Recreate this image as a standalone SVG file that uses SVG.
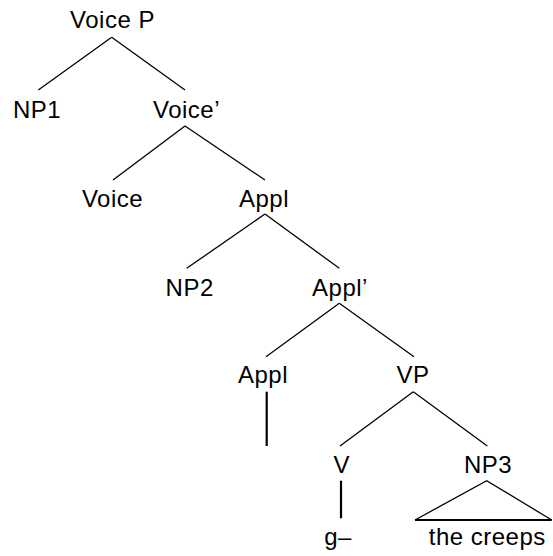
<svg xmlns="http://www.w3.org/2000/svg" width="553" height="556" viewBox="0 0 553 556">
<style>
text{font-family:"Liberation Sans",Arial,sans-serif;font-size:24px;letter-spacing:0.5px;fill:#000;text-anchor:middle}
.e{stroke:#000;stroke-width:1.3;fill:none}
.v{stroke:#000;stroke-width:2.2;fill:none}
</style>
<rect width="553" height="556" fill="#fff"/>
<g id="connectors">
<line class="e" x1="111.7" y1="37.3" x2="38.3" y2="90"/>
<line class="e" x1="111.7" y1="37.3" x2="185" y2="90"/>
<line class="e" x1="185" y1="126" x2="113" y2="180"/>
<line class="e" x1="185" y1="126" x2="265" y2="180"/>
<line class="e" x1="265" y1="214" x2="186.7" y2="268.3"/>
<line class="e" x1="265" y1="214" x2="339.3" y2="268.3"/>
<line class="e" x1="339.3" y1="303.3" x2="266" y2="356.7"/>
<line class="e" x1="339.3" y1="303.3" x2="414" y2="356.7"/>
<line class="v" x1="266.7" y1="391.7" x2="266.7" y2="446"/>
<line class="e" x1="413.3" y1="391.7" x2="340" y2="446"/>
<line class="e" x1="413.3" y1="391.7" x2="487.3" y2="446"/>
<line class="v" x1="341" y1="480.7" x2="341" y2="518.3"/>
<polyline class="e" points="415,520 486.7,480.7 551.7,520"/>
<line class="v" x1="415" y1="520" x2="551.7" y2="520"/>
</g>
<g id="voiceP"><text x="112.5" y="28.3">Voice P</text></g>
<g id="np1"><text x="37" y="118">NP1</text></g>
<g id="voiceBar"><text x="186.5" y="118">Voice’</text></g>
<g id="voice"><text x="112.5" y="207">Voice</text></g>
<g id="applP"><text x="264" y="207">Appl</text></g>
<g id="np2"><text x="189.7" y="296">NP2</text></g>
<g id="applBar"><text x="340" y="296">Appl’</text></g>
<g id="appl"><text x="263" y="383">Appl</text></g>
<g id="vp"><text x="413" y="383">VP</text></g>
<g id="v"><text x="341.7" y="473">V</text></g>
<g id="np3"><text x="488" y="473">NP3</text></g>
<g id="g"><text x="338" y="545">g–</text></g>
<g id="creeps"><text x="487.3" y="545">the creeps</text></g>
</svg>
